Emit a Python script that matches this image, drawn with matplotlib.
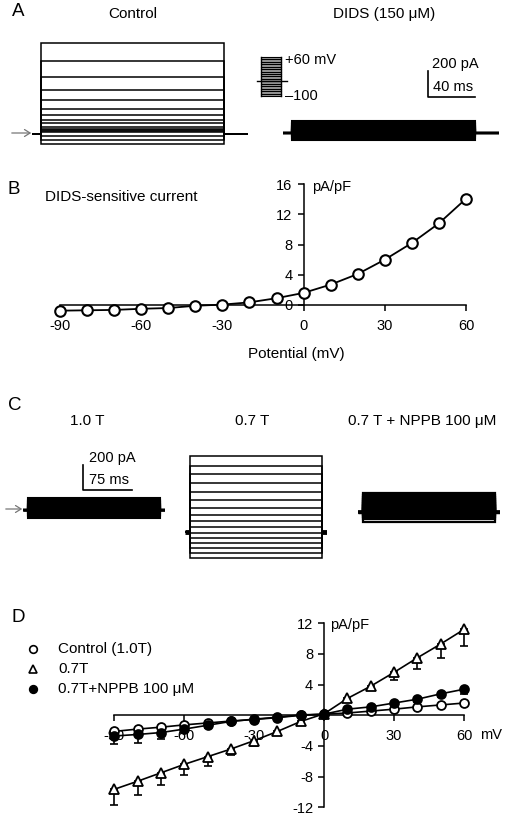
import matplotlib
matplotlib.use("Agg")
import matplotlib.pyplot as plt
from matplotlib.lines import Line2D
import numpy as np

plt.rcParams['font.family'] = ['Liberation Sans', 'DejaVu Sans']
plt.rcParams['axes.unicode_minus'] = False

# ---------------- data ----------------
# Panel A: step protocol and steady currents (pA), +60 ... -100 mV
voltA = [60, 50, 40, 30, 20, 10, 0, -10, -20, -30, -40, -50, -60, -70, -80, -90, -100]
holdA = -40
ctrl_pA = [675, 545, 425, 325, 250, 182, 137, 102, 75, 52, 37, 25, 17, 8, -20, -45, -82]
dids_pA = [90, 78, 67, 58, 50, 42, 35, 28, 21, 15, 10, 5, 0, -10, -22, -36, -52]
protA_ms = [8, 155, 21]          # pre, pulse, post
scaleA = (200, 40)               # pA, ms

# Panel B: DIDS-sensitive current
potB = [-90, -80, -70, -60, -50, -40, -30, -20, -10, 0, 10, 20, 30, 40, 50, 60]
curB = [-0.75, -0.7, -0.65, -0.5, -0.4, -0.1, 0.05, 0.35, 0.9, 1.6, 2.7, 4.1, 6.0, 8.2, 10.8, 14.05]

# Panel C: steady currents (pA), +60 ... -90 mV
c10_pA = [96, 84, 73, 62, 52, 43, 34, 25, 17, 9, 0, -10, -22, -36, -50, -64]
c07_pA = [608, 528, 458, 392, 320, 254, 186, 134, 86, 34, -14, -54, -94, -134, -174, -214]
cnppb_pA = [152, 133, 116, 100, 85, 71, 57, 44, 31, 19, 6, -8, -24, -42, -60, -80]
protC_ms = [8, 203, 8]
scaleC = (200, 75)

# Panel D: I-V relations (pA/pF)
potD = [-90, -80, -70, -60, -50, -40, -30, -20, -10, 0, 10, 20, 30, 40, 50, 60]
ctrlD = [-2.1, -1.8, -1.55, -1.25, -1.0, -0.75, -0.55, -0.3, 0.0, 0.15, 0.3, 0.55, 0.8, 1.1, 1.35, 1.6]
ctrlD_err = [0.3, 0.25, 0.2, 0.2, 0.15, 0.1, 0.1, 0.1, 0.05, 0.05, 0.05, 0.1, 0.1, 0.1, 0.15, 0.2]
t07D = [-9.65, -8.6, -7.5, -6.4, -5.4, -4.4, -3.3, -2.1, -0.8, 0.2, 2.2, 3.8, 5.6, 7.5, 9.3, 11.2]
t07D_err = [2.0, 1.8, 1.6, 1.4, 1.2, 0.8, 0.7, 0.3, 0.2, 0.1, 0.2, 0.4, 0.95, 1.5, 1.8, 2.2]
nppbD = [-2.7, -2.5, -2.25, -1.8, -1.3, -0.8, -0.5, -0.25, 0.05, 0.15, 0.8, 1.1, 1.6, 2.1, 2.8, 3.4]
nppbD_err = [1.0, 1.1, 0.8, 0.5, 0.3, 0.2, 0.15, 0.1, 0.05, 0.05, 0.1, 0.15, 0.2, 0.3, 0.4, 0.6]
legD = ['Control (1.0T)', '0.7T', '0.7T+NPPB 100 \u03bcM']

# ---------------- layout helpers ----------------
W, H = 508, 818
fig = plt.figure(figsize=(W / 100, H / 100), dpi=100)


def add_ax(l, t, r, b):
    return fig.add_axes([l / W, 1 - b / H, (r - l) / W, (b - t) / H])


def ftext(x, y, s, size=10.5, ha='left', va='center', **kw):
    fig.text(x / W, 1 - y / H, s, fontsize=size, ha=ha, va=va, **kw)


def trace_axes(l, t, b, base, total_ms, ms_px, pa_px):
    r = l + total_ms / ms_px
    ax = add_ax(l, t, r, b)
    ax.set_xlim(0, total_ms)
    ax.set_ylim(-(b - base) * pa_px, (base - t) * pa_px)
    ax.axis('off')
    return ax


def draw_traces(ax, levels, prot, lw=0.9, base_lw=None):
    pre, dur, post = prot
    t = [0, pre, pre, pre + dur, pre + dur, pre + dur + post]
    for I in levels:
        ax.plot(t, [0, 0, I, I, 0, 0], color='black', lw=lw, solid_joinstyle='miter')
    if base_lw:
        ax.plot([0, pre], [0, 0], color='black', lw=base_lw, solid_capstyle='butt')
        ax.plot([pre + dur, pre + dur + post], [0, 0], color='black', lw=base_lw,
                solid_capstyle='butt')


def arrow(x0, x1, y):
    fig.add_artist(matplotlib.patches.FancyArrowPatch(
        (x0 / W, 1 - y / H), (x1 / W, 1 - y / H), transform=fig.transFigure,
        arrowstyle='->,head_length=4,head_width=2.5', color='#777777', lw=0.9))


# ---------------- Panel A ----------------
msA = 40 / 47.0
paA = 200 / 26.7
totA = sum(protA_ms)
axA1 = trace_axes(32, 38, 152, 133.5, totA, msA, paA)
draw_traces(axA1, ctrl_pA, protA_ms, lw=1.1)
axA2 = trace_axes(283, 38, 152, 133.3, totA, msA, paA)
draw_traces(axA2, dids_pA, protA_ms, lw=1.5)
# scale bar (in DIDS axes data units)
sbx, sby = 123, 270
axA2.plot([sbx, sbx, sbx + scaleA[1]], [sby + scaleA[0], sby, sby], color='black', lw=1.2)
ftext(432, 64, '%d pA' % scaleA[0])
ftext(433, 87, '%d ms' % scaleA[1])

# voltage protocol icon
axP = add_ax(250, 48, 292, 102)
axP.set_xlim(250, 292)
axP.set_ylim(-100 - 6 * 160 / 39.5, 60 + 9 * 160 / 39.5)
axP.axis('off')
axP.fill_between([261, 280.7], min(voltA), max(voltA), color='#9a9a9a', lw=0)
for v in voltA:
    axP.plot([261, 280.7], [v, v], color='black', lw=0.8)
axP.plot([261, 261], [min(voltA), max(voltA)], color='black', lw=1.0)
axP.plot([280.7, 280.7], [min(voltA), max(voltA)], color='black', lw=1.0)
axP.plot([257, 286.5], [holdA, holdA], color='black', lw=1.0)
ftext(285, 60, '+%d mV' % max(voltA), size=10.5)
ftext(285, 96, '\u2013%d' % abs(min(voltA)), size=10.5)

arrow(9, 34, 133)

ftext(18.5, 12, 'A', size=13.5, ha='center')
ftext(133, 14, 'Control', size=11, ha='center')
ftext(384, 14, 'DIDS (150 \u03bcM)', size=11, ha='center')

# ---------------- Panel B ----------------
axB = add_ax(40, 175, 490, 320)
pxB = (466 - 60) / 150.0
pyB = (305 - 184) / 16.0
axB.set_xlim(-90 - 20 / pxB, 60 + 24 / pxB)
axB.set_ylim(-15 / pyB, 130 / pyB)
axB.plot(potB, curB, color='black', lw=1.3, marker='o', ms=7.6, mfc='white',
         mec='black', mew=1.5, zorder=3, clip_on=False)
for s in ['top', 'right']:
    axB.spines[s].set_visible(False)
axB.spines['left'].set_position(('data', 0))
axB.spines['bottom'].set_position(('data', 0))
axB.spines['left'].set_bounds(0, 16)
axB.spines['bottom'].set_bounds(-90, 60)
axB.spines['left'].set_linewidth(1.1)
axB.spines['bottom'].set_linewidth(1.1)
axB.set_xticks([-90, -60, -30, 0, 30, 60])
axB.set_yticks([0, 4, 8, 12, 16])
axB.tick_params(axis='x', direction='out', length=4, width=1.1, pad=6, labelsize=10.5)
axB.tick_params(axis='y', direction='out', length=4, width=1.1, pad=4, labelsize=10.5)
axB.patch.set_visible(False)
ftext(312, 187, 'pA/pF', size=10.5)
ftext(296, 354, 'Potential (mV)', size=11, ha='center')
ftext(14, 190, 'B', size=13.5, ha='center')
ftext(45, 197, 'DIDS-sensitive current', size=11)

# ---------------- Panel C ----------------
msC = scaleC[1] / 48.7
paC = scaleC[0] / 25.0
totC = sum(protC_ms)
axC1 = trace_axes(22.7, 455, 535, 510, totC, msC, paC)
draw_traces(axC1, c10_pA, protC_ms, lw=1.5, base_lw=1.8)
axC2 = trace_axes(185, 440, 575, 531.7, totC, msC, paC)
draw_traces(axC2, c07_pA, protC_ms, lw=1.1, base_lw=3.5)
axC3 = trace_axes(358, 480, 535, 511.7, totC, msC, paC)
draw_traces(axC3, cnppb_pA, protC_ms, lw=1.6, base_lw=2.5)
sbx, sby = 93, 160
axC1.plot([sbx, sbx, sbx + scaleC[1]], [sby + scaleC[0], sby, sby], color='black', lw=1.2)
ftext(89, 458, '%d pA' % scaleC[0])
ftext(89, 480, '%d ms' % scaleC[1])
arrow(3, 25, 509)
ftext(15, 405, 'C', size=13.5, ha='center')
ftext(87, 421, '1.0 T', size=11, ha='center')
ftext(252, 421, '0.7 T', size=11, ha='center')
ftext(422, 421, '0.7 T + NPPB 100 \u03bcM', size=11, ha='center')

# ---------------- Panel D ----------------
axD = add_ax(95, 610, 495, 812)
pxD = (464 - 114.3) / 150.0
pyD = (807.3 - 623.3) / 24.0
y0D = 715.3
axD.set_xlim(-90 - (114.3 - 95) / pxD, 60 + (495 - 464) / pxD)
axD.set_ylim(-(812 - y0D) / pyD, (y0D - 610) / pyD)
zeros = [0] * len(potD)
axD.plot(potD, t07D, color='black', lw=1.2, zorder=2)
axD.plot(potD, ctrlD, color='black', lw=1.2, zorder=2)
axD.plot(potD, nppbD, color='black', lw=1.2, zorder=2)
axD.errorbar(potD, t07D, yerr=[t07D_err, zeros], fmt='none', ecolor='black',
             elinewidth=1.2, capsize=3, capthick=1.2, zorder=2)
axD.errorbar(potD, nppbD, yerr=[nppbD_err, zeros], fmt='none', ecolor='black',
             elinewidth=1.2, capsize=3, capthick=1.2, zorder=2)
axD.errorbar(potD, ctrlD, yerr=[ctrlD_err, zeros], fmt='none', ecolor='black',
             elinewidth=1.2, capsize=3, capthick=1.2, zorder=2)
axD.plot(potD, t07D, ls='none', marker='^', ms=7, mfc='white', mec='black', mew=1.3, zorder=4)
axD.plot(potD, ctrlD, ls='none', marker='o', ms=6.4, mfc='white', mec='black', mew=1.3, zorder=4)
axD.plot(potD, nppbD, ls='none', marker='o', ms=6.4, mfc='black', mec='black', mew=1.3, zorder=5)
for s in ['top', 'right']:
    axD.spines[s].set_visible(False)
axD.spines['left'].set_position(('data', 0))
axD.spines['bottom'].set_position(('data', 0))
axD.spines['left'].set_bounds(-12, 12)
axD.spines['bottom'].set_bounds(-90, 60)
axD.spines['left'].set_linewidth(1.1)
axD.spines['bottom'].set_linewidth(1.1)
axD.set_xticks([-90, -60, -30, 0, 30, 60])
axD.set_yticks([-12, -8, -4, 4, 8, 12])
axD.tick_params(axis='x', direction='out', length=4, width=1.1, pad=6, labelsize=10.5)
axD.tick_params(axis='y', direction='out', length=4, width=1.1, pad=4, labelsize=10.5)
axD.patch.set_visible(False)
ftext(330, 625, 'pA/pF', size=10.5)
ftext(480, 735, 'mV', size=10.5)
ftext(18, 617, 'D', size=13.5, ha='center')

# legend
leg_style = [dict(marker='o', mfc='white'), dict(marker='^', mfc='white'), dict(marker='o', mfc='black')]
for i, (lab, st) in enumerate(zip(legD, leg_style)):
    yy = 649 + 20 * i
    fig.add_artist(Line2D([33 / W], [1 - yy / H], transform=fig.transFigure, ls='none',
                          marker=st['marker'], ms=5.5, mfc=st['mfc'], mec='black', mew=1.2))
    ftext(58, yy, lab, size=11)

fig.savefig('out.png', dpi=100)
